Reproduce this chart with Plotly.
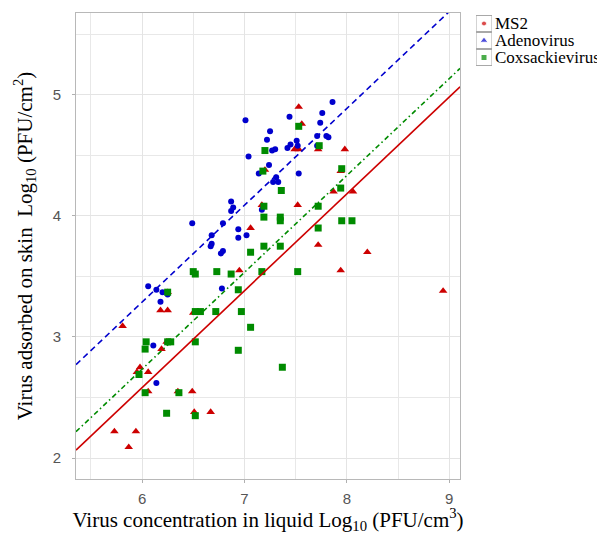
import plotly.graph_objects as go

# ---------------- data ----------------
ms2_x = [7.53, 7.56, 7.49, 7.53, 7.72, 7.98, 7.20, 7.94, 7.87, 8.06, 7.52, 7.17, 7.06, 7.72,
         8.20, 7.94, 6.95, 8.94, 6.25, 6.18, 6.25, 6.50, 5.81, 6.19, 6.24, 5.98, 5.95, 6.06,
         6.06, 6.35, 6.49, 6.51, 6.67, 5.73, 5.94, 5.87]
ms2_y = [4.90, 4.76, 4.55, 4.55, 4.55, 4.55, 4.38, 4.37, 4.20, 4.20, 4.09, 4.09, 3.90, 3.76,
         3.70, 3.55, 3.55, 3.38, 3.37, 3.22, 3.22, 3.20, 3.09, 2.90, 2.96, 2.75, 2.71, 2.71,
         2.55, 2.55, 2.55, 2.38, 2.38, 2.22, 2.22, 2.09]

adeno_x = [7.01, 7.25, 7.22, 7.27, 7.30, 7.04, 7.24, 7.86, 7.44, 7.76, 7.74, 7.71, 7.80, 7.82,
           7.51, 7.45, 7.52, 7.42, 7.71, 7.53, 7.31, 7.28, 7.33, 7.17, 7.14, 6.87, 6.89, 6.87,
           6.49, 6.79, 6.94, 7.02, 6.94, 6.68, 6.68, 6.67, 6.79, 6.77, 6.06, 6.14, 6.20, 6.25,
           6.18, 6.78, 6.11, 6.14]
adeno_y = [4.79, 4.70, 4.63, 4.54, 4.55, 4.49, 4.42, 4.94, 4.82, 4.85, 4.77, 4.66, 4.66, 4.65,
           4.62, 4.59, 4.58, 4.56, 4.58, 4.35, 4.32, 4.28, 4.28, 4.05, 4.35, 4.12, 4.07, 4.04,
           3.94, 3.94, 3.89, 3.84, 3.82, 3.84, 3.77, 3.75, 3.71, 3.69, 3.42, 3.39, 3.37, 3.35,
           3.29, 3.40, 2.93, 2.62]

coxs_x = [7.20, 7.53, 7.73, 7.95, 7.18, 7.36, 7.94, 7.72, 7.19, 7.19, 7.35, 7.35, 7.95, 8.05,
          7.72, 7.19, 7.35, 7.06, 7.17, 7.52, 6.50, 6.52, 6.73, 6.87, 6.94, 6.25, 6.52, 6.57,
          6.72, 6.97, 7.06, 6.04, 6.03, 6.25, 6.28, 6.52, 6.94, 7.37, 5.97, 6.03, 6.36, 6.24, 6.52]
coxs_y = [4.54, 4.74, 4.58, 4.39, 4.37, 4.21, 4.23, 4.08, 4.08, 3.99, 3.99, 3.96, 3.96, 3.96,
          3.90, 3.75, 3.75, 3.70, 3.54, 3.54, 3.54, 3.52, 3.54, 3.52, 3.39, 3.37, 3.21, 3.21,
          3.21, 3.21, 3.08, 2.96, 2.90, 2.96, 2.96, 2.96, 2.89, 2.75, 2.69, 2.54, 2.54, 2.37, 2.35]

# fitted lines: y = intercept + slope * x
fit_slope = [0.80, 0.80, 0.80]            # MS2, Adenovirus, Coxsackievirus
fit_intercept = [-2.218, -1.512, -2.066]

x_range = [5.355, 9.105]
y_range = [1.827, 5.676]
x_ticks = [6, 7, 8, 9]
y_ticks = [2, 3, 4, 5]
legend_labels = ["MS2", "Adenovirus", "Coxsackievirus"]

# ---------------- styling ----------------
RED = "#CD0000"
BLUE = "#0000CD"
GREEN = "#008B00"
SERIF = "Liberation Serif"
SANS = "Liberation Sans"

fig = go.Figure()

fig.add_trace(go.Scatter(x=ms2_x, y=ms2_y, mode="markers",
                         marker=dict(symbol="triangle-up", size=7.5, color=RED),
                         showlegend=False))
fig.add_trace(go.Scatter(x=adeno_x, y=adeno_y, mode="markers",
                         marker=dict(symbol="circle", size=6, color=BLUE),
                         showlegend=False))
fig.add_trace(go.Scatter(x=coxs_x, y=coxs_y, mode="markers",
                         marker=dict(symbol="square", size=7, color=GREEN),
                         showlegend=False))

line_styles = [dict(color=RED, width=1.6, dash="solid"),
               dict(color=BLUE, width=1.6, dash="6px,4px"),
               dict(color=GREEN, width=1.6, dash="5px,3px,1.5px,3px")]
for s, b, st in zip(fit_slope, fit_intercept, line_styles):
    xs = list(x_range)
    ys = [b + s * v for v in xs]
    fig.add_trace(go.Scatter(x=xs, y=ys, mode="lines", line=st, showlegend=False))

# ---------------- legend drawn as a tiny categorical subplot ----------------
zeros = [0] * len(legend_labels)
fig.add_trace(go.Scatter(x=zeros, y=legend_labels, xaxis="x2", yaxis="y2", mode="markers",
                         marker=dict(symbol="square-open", size=16, color="#a8a8a8",
                                     line=dict(width=1, color="#a8a8a8")),
                         showlegend=False, hoverinfo="skip"))
fig.add_trace(go.Scatter(x=zeros, y=legend_labels, xaxis="x2", yaxis="y2", mode="markers",
                         marker=dict(symbol=["circle", "triangle-up", "square"],
                                     size=[5, 7, 6], color=[RED, BLUE, GREEN]),
                         showlegend=False, hoverinfo="skip"))

# the page body adds an 8px offset, so the figure is 8px smaller and shifted
OFF = 8
W, H = 605 - OFF, 534 - OFF
ml, mr, mt, mb = 76 - OFF, 8, 13 - OFF, 55
pw = W - ml - mr
ph = H - mt - mb
main_right = 384 / pw

grid = dict(showgrid=True, gridcolor="#e4e4e4", gridwidth=1.3,
            minor=dict(dtick=0.5, showgrid=True, gridcolor="#e8e8e8", gridwidth=1, ticks=""))

fig.update_layout(
    width=W, height=H,
    margin=dict(l=ml, r=mr, t=mt, b=mb, autoexpand=False),
    paper_bgcolor="white", plot_bgcolor="white",
    showlegend=False,
    xaxis=dict(domain=[0, main_right], range=x_range, tickvals=x_ticks,
               ticks="outside", ticklen=3, tickcolor="#b0b0b0",
               tickfont=dict(family=SANS, size=15, color="#555555"),
               showline=True, mirror=True, linecolor="#b8b8b8", linewidth=1,
               zeroline=False, ticklabelstandoff=3,
               title=dict(text="Virus concentration in liquid Log<sub>10</sub> (PFU/cm<sup>3</sup>)",
                          font=dict(family=SERIF, size=21, color="black"), standoff=9),
               **grid),
    yaxis=dict(range=y_range, tickvals=y_ticks,
               ticks="outside", ticklen=3, tickcolor="#b0b0b0",
               tickfont=dict(family=SANS, size=15, color="#555555"),
               showline=True, mirror=True, linecolor="#b8b8b8", linewidth=1,
               zeroline=False, ticklabelstandoff=8,
               title=dict(text="Virus adsorbed on skin  Log<sub>10</sub> (PFU/cm<sup>2</sup>)",
                          font=dict(family=SERIF, size=21, color="black"), standoff=14),
               **grid),
    xaxis2=dict(domain=[(476 - 76) / pw, (492 - 76) / pw], range=[-0.5, 0.5],
                visible=False, anchor="y2", fixedrange=True),
    yaxis2=dict(domain=[(479 - 66) / ph, (479 - 15) / ph],
                type="category", categoryarray=legend_labels, categoryorder="array",
                tickmode="array", tickvals=legend_labels, ticktext=legend_labels,
                range=[2.5, -0.5], anchor="x2", side="right",
                showgrid=False, zeroline=False, showline=False, ticks="",
                tickfont=dict(family=SERIF, size=17, color="black"),
                ticklabelstandoff=2, fixedrange=True),
)

fig.write_html("out.html")
